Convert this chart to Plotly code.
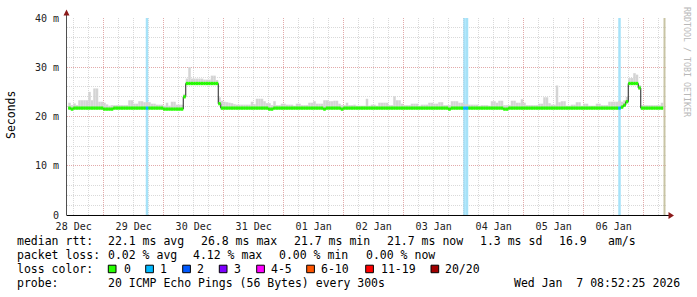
import plotly.graph_objects as go
from datetime import datetime, timedelta

# ---------------- data ----------------
START = datetime(2025, 12, 28, 9, 20)
END = START + timedelta(days=10)
BIN0 = datetime(2025, 12, 28, 9, 50)       # start of first hourly bin
LAST_UPDATE = datetime(2026, 1, 7, 8, 20)   # beige marker line

# median rtt (ms) per hourly bin, run-length encoded: (count, value)
MEDIAN_RUNS = [
    (1, 21.7), (1, 21.5), (12, 21.7), (4, 21.5), (20, 21.7), (8, 21.5),
    (1, 24.0), (13, 26.7), (1, 22.6), (19, 21.7), (2, 21.5), (20, 21.7),
    (1, 21.5), (6, 21.7), (1, 21.5), (42, 21.7), (1, 21.5), (21, 21.7),
    (2, 21.5), (45, 21.7), (1, 21.9), (1, 22.3), (1, 23.0), (4, 26.7),
    (1, 25.8), (9, 21.7),
]

# top of the smoke (ms) per hourly bin, run-length encoded
SMOKE_RUNS = [
    (1, 22.8), (1, 22.3), (1, 22.65), (1, 22.3), (4, 23.3), (1, 25.0), (1, 23.3),
    (2, 25.7), (2, 23.0), (1, 22.8), (1, 22.45), (1, 22.2), (7, 22.3), (2, 23.3),
    (2, 22.6), (2, 23.1), (3, 22.9), (2, 22.6), (3, 22.4), (1, 22.2), (1, 22.8),
    (1, 22.2), (2, 23.0), (3, 22.4), (1, 24.6), (1, 27.7), (1, 30.0), (5, 27.7),
    (3, 27.5), (2, 28.3), (1, 27.4), (1, 23.9), (1, 23.2), (1, 23.0), (1, 22.9),
    (1, 22.8), (1, 22.7), (1, 22.5), (6, 22.4), (1, 23.0), (1, 22.5), (3, 23.6),
    (1, 23.1), (2, 22.7), (1, 22.3), (1, 23.1), (2, 22.3), (2, 22.6), (3, 22.4),
    (1, 22.2), (2, 22.6), (3, 22.3), (2, 22.8), (1, 23.1), (3, 22.6), (2, 23.3),
    (2, 23.1), (2, 23.2), (1, 22.6), (2, 22.3), (1, 22.8), (2, 22.3), (1, 22.4),
    (4, 22.2), (1, 23.6), (1, 22.2), (2, 22.4), (1, 22.2), (4, 22.8), (2, 22.3),
    (1, 24.1), (2, 23.3), (1, 22.6), (3, 22.3), (3, 22.6), (1, 22.2), (3, 22.4),
    (2, 22.8), (2, 22.6), (2, 22.9), (3, 22.3), (3, 23.1), (2, 22.8), (2, 22.5),
    (4, 22.4), (1, 22.2), (3, 22.3), (1, 22.2), (2, 23.1), (1, 22.8), (2, 23.2),
    (3, 22.3), (2, 23.2), (2, 22.8), (1, 23.5), (1, 22.8), (5, 22.3), (2, 22.6),
    (2, 23.9), (1, 22.7), (2, 22.4), (1, 26.3), (1, 22.9), (2, 23.1), (2, 22.2),
    (2, 22.4), (2, 22.9), (1, 22.2), (2, 22.6), (3, 22.2), (2, 22.6), (3, 22.3),
    (4, 23.0), (1, 23.2), (1, 23.0), (1, 23.3), (1, 24.0), (2, 27.8), (1, 28.8),
    (1, 28.5), (1, 26.4), (8, 22.3), (1, 22.8),
]

# bins with packet loss (index -> lost pings out of 20)
LOSS_BINS = [31, 158, 159, 220]
LOSS_COUNT = [1, 1, 1, 1]

Y_TICKS = [0, 10, 20, 30, 40]
Y_LABELS = ["0", "10 m", "20 m", "30 m", "40 m"]

LOSS_LEGEND = ["0", "1", "2", "3", "4-5", "6-10", "11-19", "20/20"]
LOSS_COLORS = ["#26ff00", "#00b8ff", "#0059ff", "#7e00ff", "#ff00ff",
               "#ff5500", "#ff0000", "#a10000"]

STATS_RTT = ["median rtt:", "22.1 ms avg", "26.8 ms max", "21.7 ms min",
             "21.7 ms now", "1.3 ms sd", "16.9", "am/s"]
STATS_LOSS = ["packet loss:", "0.02 % avg", "4.12 % max", "0.00 % min",
              "0.00 % now"]
PROBE = ["probe:", "20 ICMP Echo Pings (56 Bytes) every 300s",
         "Wed Jan  7 08:52:25 2026"]


def expand(runs):
    out = []
    for n, v in runs:
        out += [v] * n
    return out


median = expand(MEDIAN_RUNS)
smoke_top = expand(SMOKE_RUNS)
N = len(median)
assert N == len(smoke_top) == 238

H = timedelta(hours=1)
starts = [BIN0 + k * H for k in range(N)]
centers = [s + H / 2 for s in starts]

loss_of_bin = {k: c for k, c in zip(LOSS_BINS, LOSS_COUNT)}


def loss_color_index(c):
    if c == 0:
        return 0
    if c <= 3:
        return c
    if c <= 5:
        return 4
    if c <= 10:
        return 5
    if c <= 19:
        return 6
    return 7


# ---------------- figure ----------------
MONO = "DejaVu Sans Mono"
MAJ = "#e2aaaa"
MINC = "#d9d9d9"
L, R, T, B = 67, 667, 16, 215


def px(x):
    return (x - L) / (R - L)


def py(y):
    return (B - y) / (B - T)


fig = go.Figure()

# loss background bars
fig.add_trace(go.Bar(
    x=[centers[k] for k in LOSS_BINS], y=[40] * len(LOSS_BINS), base=0,
    width=[3600000] * len(LOSS_BINS),
    marker=dict(color="#a6e2f8", line=dict(width=0)), hoverinfo="skip"))

# smoke
fig.add_trace(go.Bar(
    x=centers, y=[t - m for t, m in zip(smoke_top, median)], base=median,
    width=[3600000] * N,
    marker=dict(color="#d4d4d4", line=dict(width=0)), hoverinfo="skip"))

# black median line
fig.add_trace(go.Scatter(
    x=starts + [starts[-1] + H], y=median + [median[-1]], mode="lines",
    line=dict(color="#202020", width=1, shape="hv"), hoverinfo="skip"))

# colored median band per loss color
groups = {}
for k in range(N):
    ci = loss_color_index(loss_of_bin.get(k, 0))
    xs, ys = groups.setdefault(ci, ([], []))
    xs += [starts[k], starts[k] + H, None]
    ys += [median[k], median[k], None]
for ci, (xs, ys) in groups.items():
    fig.add_trace(go.Scatter(
        x=xs, y=ys, mode="lines",
        line=dict(color=LOSS_COLORS[ci], width=3.3), hoverinfo="skip"))

shapes = []
# last-update marker
shapes.append(dict(type="line", xref="x", yref="paper", x0=LAST_UPDATE,
                   x1=LAST_UPDATE, y0=0, y1=1,
                   line=dict(color="#c8c4a4", width=2)))
# axis lines
shapes.append(dict(type="line", xref="paper", yref="paper", x0=px(66.5),
                   x1=px(66.5), y0=py(215), y1=py(12),
                   line=dict(color="#505050", width=1)))
shapes.append(dict(type="line", xref="paper", yref="paper", x0=px(66.5),
                   x1=px(670), y0=py(215.5), y1=py(215.5),
                   line=dict(color="#000000", width=1)))
# arrows
shapes.append(dict(type="path", xref="paper", yref="paper",
                   path="M %f,%f L %f,%f L %f,%f Z" % (
                       px(66.5), py(7.5), px(63.5), py(13.5), px(69.5), py(13.5)),
                   fillcolor="#8b1a1a", line=dict(width=0)))
shapes.append(dict(type="path", xref="paper", yref="paper",
                   path="M %f,%f L %f,%f L %f,%f Z" % (
                       px(674), py(215.5), px(668.5), py(212), px(668.5), py(219)),
                   fillcolor="#8b1a1a", line=dict(width=0)))

annotations = []


def text(x, y, s, size=11.5, color="#000000", angle=0, xanchor="left"):
    annotations.append(dict(
        xref="paper", yref="paper", x=px(x), y=py(y), text=s,
        showarrow=False, xanchor=xanchor, yanchor="middle", textangle=angle,
        font=dict(family=MONO, size=size, color=color), borderpad=0))


# legend lines
rtt_x = [15.5, 106.5, 199.5, 292.5, 385.5, 478.5, 557.5, 606.5]
for x, s in zip(rtt_x, STATS_RTT):
    text(x, 241.6, s)
loss_x = [15.5, 106.5, 192, 277.5, 364.5]
for x, s in zip(loss_x, STATS_LOSS):
    text(x, 255.6, s)
text(15.5, 269.6, "loss color:")
box_x = [108.3, 145.7, 182.7, 219.3, 256.7, 306.7, 365.7, 431.0]
lab_x = [122.5, 159.2, 196, 232.5, 270, 320, 380, 444.3]
for bx, lx, lab, col in zip(box_x, lab_x, LOSS_LEGEND, LOSS_COLORS):
    shapes.append(dict(type="rect", xref="paper", yref="paper",
                       x0=px(bx), x1=px(bx + 7.7), y0=py(273.3), y1=py(265.7),
                       fillcolor=col, line=dict(color="#000000", width=1)))
    text(lx, 269.6, lab)
text(15.5, 283.6, PROBE[0])
text(106.5, 283.6, PROBE[1])
text(512.5, 283.6, PROBE[2])

# y title and watermark
text(11, 114, "Seconds", angle=-90, xanchor="center")
text(687.5, 60, "RRDTOOL / TOBI OETIKER", size=8.3, color="#b8b8b8",
     angle=90, xanchor="center")

fig.update_layout(
    width=697, height=297,
    margin=dict(l=L, r=697 - R, t=T, b=297 - B),
    paper_bgcolor="white", plot_bgcolor="white",
    showlegend=False, barmode="overlay", hovermode=False,
    shapes=shapes, annotations=annotations,
    xaxis=dict(
        type="date", range=[START, END], dtick=86400000, tick0="2025-12-28",
        tickformat="%d %b", ticklabelmode="period",
        showgrid=True, gridcolor=MAJ, griddash="1px,1px", gridwidth=1,
        minor=dict(dtick=6 * 3600000, tick0="2025-12-28", showgrid=True,
                   gridcolor=MINC, griddash="1px,1px", gridwidth=1),
        ticks="outside", ticklen=2, tickcolor="rgba(0,0,0,0)",
        showline=False, zeroline=False,
        tickfont=dict(family=MONO, size=10, color="#222222")),
    yaxis=dict(
        range=[0, 40], tickvals=Y_TICKS, ticktext=Y_LABELS,
        showgrid=True, gridcolor=MAJ, griddash="1px,1px", gridwidth=1,
        minor=dict(dtick=2, showgrid=True, gridcolor=MINC,
                   griddash="1px,1px", gridwidth=1),
        ticks="outside", ticklen=5, tickcolor="rgba(0,0,0,0)",
        showline=False, zeroline=False,
        tickfont=dict(family=MONO, size=10, color="#222222")),
)

fig.write_html("out.html", config={"displayModeBar": False})
